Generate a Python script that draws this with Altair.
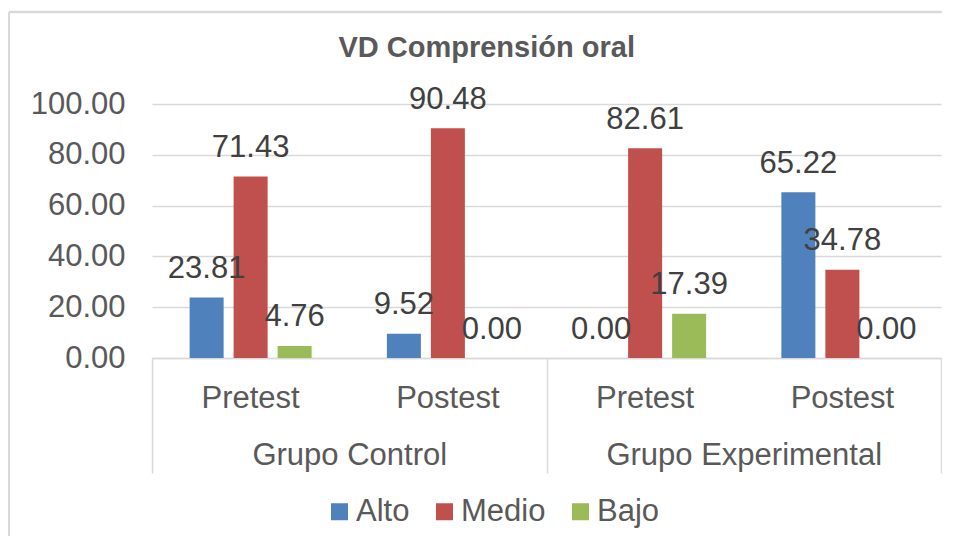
import altair as alt
import pandas as pd

grupos = ["Grupo Control", "Grupo Control", "Grupo Experimental", "Grupo Experimental"]
momentos = ["Pretest", "Postest", "Pretest", "Postest"]
series = ["Alto", "Medio", "Bajo"]
alto = [23.81, 9.52, 0.00, 65.22]
medio = [71.43, 90.48, 82.61, 34.78]
bajo = [4.76, 0.00, 17.39, 0.00]
colores = ["#4F81BD", "#C0504D", "#9BBB59"]
titulo = "VD Comprensión oral"

rows = []
for vals, s in zip([alto, medio, bajo], series):
    for g, m, v in zip(grupos, momentos, vals):
        rows.append({"grupo": g, "momento": m, "cat": g + "|" + m, "serie": s, "valor": v})
df = pd.DataFrame(rows)
cat_order = [g + "|" + m for g, m in zip(grupos, momentos)]
grupo_order = ["Grupo Control", "Grupo Experimental"]

FONT = "Liberation Sans"
W = 789
H = 254
GRID = "#d9d9d9"

x = alt.X("cat:N", sort=cat_order, title=None,
          scale=alt.Scale(domain=cat_order, paddingInner=0, paddingOuter=0),
          axis=alt.Axis(labelAngle=0, ticks=False, domain=True, domainColor=GRID,
                        domainWidth=1.5, labelFontSize=31, labelColor="#595959",
                        labelFont=FONT, labelPadding=25, grid=False, labelLimit=0,
                        labelExpr="split(datum.label, '|')[1]"))
xo = alt.XOffset("serie:N", sort=series,
                 scale=alt.Scale(domain=series, paddingInner=0.227, paddingOuter=0.855))
y = alt.Y("valor:Q", title=None,
          scale=alt.Scale(domain=[0, 100], nice=False),
          axis=alt.Axis(values=[0, 20, 40, 60, 80, 100], format=".2f", ticks=False,
                        domain=False, labelFontSize=31, labelColor="#595959",
                        labelFont=FONT, labelPadding=27, gridColor=GRID,
                        gridWidth=1.3))

bars = alt.Chart().mark_bar().encode(
    x=x, xOffset=xo, y=y,
    color=alt.Color("serie:N", sort=series,
                    scale=alt.Scale(domain=series, range=colores),
                    legend=alt.Legend(orient="none", direction="horizontal",
                                      legendX=172, legendY=392, title=None,
                                      symbolType="square", symbolSize=289,
                                      symbolStrokeWidth=0, labelFontSize=31,
                                      labelColor="#595959", labelFont=FONT,
                                      columnPadding=19, labelOffset=1, padding=0))
)

labels = alt.Chart().mark_text(baseline="alphabetic", dy=-19.5, fontSize=31,
                               font=FONT, color="#404040").encode(
    x=x, xOffset=xo, y=y,
    text=alt.Text("valor:Q", format=".2f")
)

inner = alt.layer(bars, labels)

grp = alt.Chart().mark_point(opacity=0).encode(
    x=alt.X("grupo:N", sort=grupo_order, title=None,
            scale=alt.Scale(domain=grupo_order, paddingInner=0, paddingOuter=0),
            axis=alt.Axis(orient="bottom", labelAngle=0, ticks=True, tickBand="extent",
                          tickSize=115, tickColor=GRID, tickWidth=1.5, domain=False,
                          labelFontSize=31, labelColor="#595959", labelFont=FONT,
                          labelPadding=-33, grid=False, labelLimit=0)),
    y=alt.Y("valor:Q", title=None)
)

one = "datum.cat == 'Grupo Control|Pretest' && datum.serie == 'Alto'"
border_left = alt.Chart().mark_rule(color=GRID, strokeWidth=2).encode(
    x=alt.value(-143), y=alt.value(-92), y2=alt.value(440)
).transform_filter(one)
border_top = alt.Chart().mark_rule(color=GRID, strokeWidth=2.5).encode(
    x=alt.value(-143), x2=alt.value(800), y=alt.value(-92)
).transform_filter(one)
title_mark = alt.Chart().mark_text(font=FONT, fontSize=29, fontWeight="bold",
                                   color="#595959", align="center",
                                   baseline="alphabetic").encode(
    x=alt.value(334.7), y=alt.value(-47.5), text=alt.value(titulo)
).transform_filter(one)

chart = alt.layer(border_left, border_top, title_mark, inner, grp, data=df).resolve_scale(
    x="independent"
).properties(
    width=W, height=H,
    autosize=alt.AutoSizeParams(type="none"),
    padding={"left": 144, "top": 96, "right": 1, "bottom": 178},
).configure_view(stroke=None)

chart.save("out.html", embed_options={"renderer": "svg", "actions": False})
